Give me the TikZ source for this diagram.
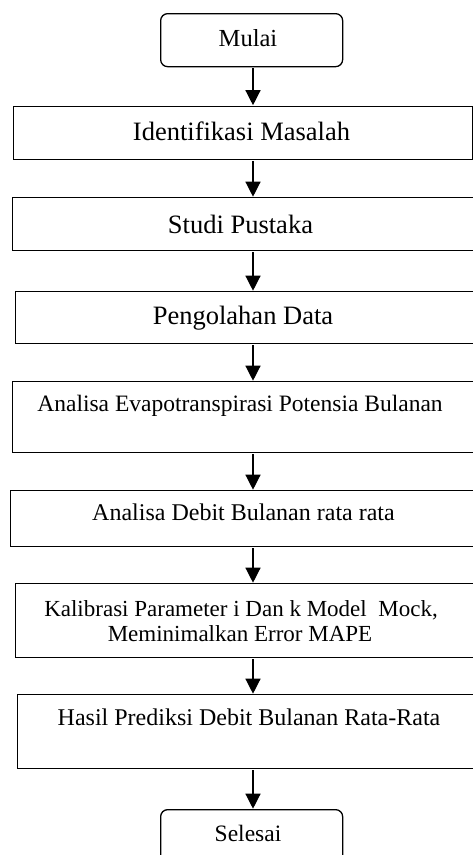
\documentclass[tikz,border=0pt]{standalone}
\usepackage{fontspec}
\setmainfont{Liberation Serif}
\usetikzlibrary{arrows.meta}
\begin{document}
\begin{tikzpicture}[x=1pt,y=-1pt,
  box/.style={draw, line width=1.3pt, inner sep=0pt, anchor=north west},
  term/.style={box, rounded corners=7pt},
  arr/.style={-{Triangle[width=15pt,length=15pt]}, line width=1.3pt, shorten <=1pt, shorten >=0.3pt},
  bigtxt/.style={font=\fontsize{26.5}{30}\selectfont, anchor=base, inner sep=0pt},
  smalltxt/.style={font=\fontsize{23.5}{25}\selectfont, anchor=base, inner sep=0pt}]
\clip (0,0) rectangle (473,855);
\coordinate (axis) at (253,0);
% boxes
\node[term, minimum width=182pt, minimum height=53pt] (mulai) at (160,13) {};
\node[box, minimum width=459pt, minimum height=53pt] (ident) at (13,105.5) {};
\node[box, minimum width=468pt, minimum height=53pt] (studi) at (12,197) {};
\node[box, minimum width=465pt, minimum height=52pt] (olah) at (15,291) {};
\node[box, minimum width=468pt, minimum height=71pt] (evapo) at (12,381) {};
\node[box, minimum width=470pt, minimum height=56pt] (debit) at (10,490) {};
\node[box, minimum width=465pt, minimum height=74pt] (kalib) at (15,583) {};
\node[box, minimum width=463pt, minimum height=74pt] (hasil) at (17,694) {};
\node[term, minimum width=182pt, minimum height=62pt] (selesai) at (160,809) {};
% texts
\node[smalltxt, font=\fontsize{24.5}{26}\selectfont] (tmulai) at (248,46.7) {Mulai};
\node[bigtxt] (tident) at (241.5,140) {Identifikasi Masalah};
\node[bigtxt] (tstudi) at (240.5,233) {Studi Pustaka};
\node[bigtxt] (tolah) at (243,324) {Pengolahan Data};
\node[smalltxt] (tevapo) at (240,411.7) {Analisa Evapotranspirasi Potensia Bulanan};
\node[smalltxt, font=\fontsize{24}{26}\selectfont] (tdebit) at (243.5,520.7) {Analisa Debit Bulanan rata rata};
\node[smalltxt, font=\fontsize{23}{25}\selectfont] (tkal1) at (241,616.7) {Kalibrasi Parameter i Dan k Model\ \ Mock,};
\node[smalltxt, font=\fontsize{23}{25}\selectfont] (tkal2) at (240,641.7) {Meminimalkan Error MAPE};
\node[smalltxt, font=\fontsize{24}{26}\selectfont] (thasil) at (249,725) {Hasil Prediksi Debit Bulanan Rata-Rata};
\node[smalltxt] (tsel) at (248,841.7) {Selesai};
% arrows
\draw[arr] (axis |- mulai.south) -- (axis |- ident.north);
\draw[arr] (axis |- ident.south) -- (axis |- studi.north);
\draw[arr] (axis |- studi.south) -- (axis |- olah.north);
\draw[arr] (axis |- olah.south) -- (axis |- evapo.north);
\draw[arr] (axis |- evapo.south) -- (axis |- debit.north);
\draw[arr] (axis |- debit.south) -- (axis |- kalib.north);
\draw[arr] (axis |- kalib.south) -- (axis |- hasil.north);
\draw[arr] (axis |- hasil.south) -- (axis |- selesai.north);
\end{tikzpicture}
\end{document}
